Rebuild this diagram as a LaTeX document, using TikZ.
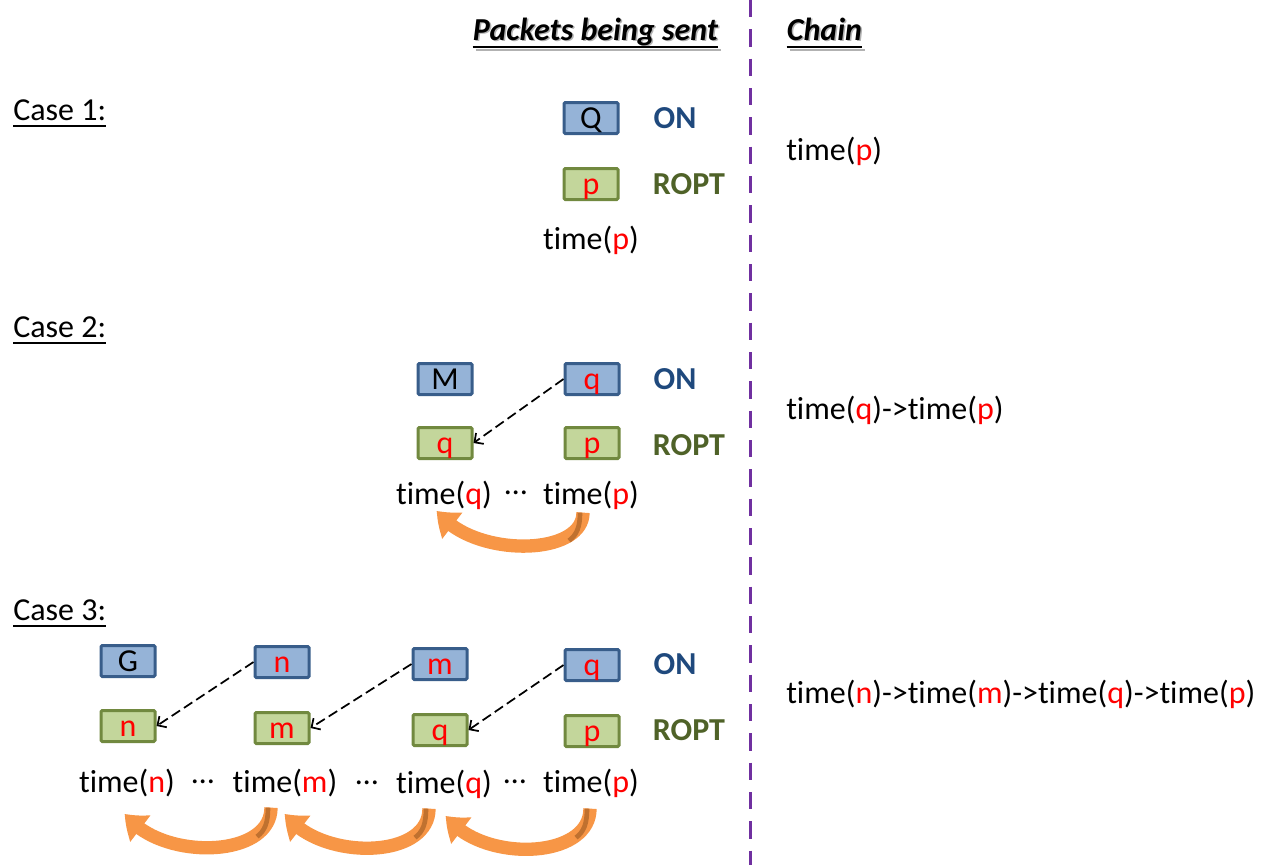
\documentclass[tikz,border=0pt]{standalone}
\usepackage{fontspec}
\setmainfont[Ligatures={NoCommon,NoRare,NoContextual}]{Carlito}
\usetikzlibrary{arrows.meta,bending}
\definecolor{boxblue}{HTML}{95B3D7}
\definecolor{blueedge}{HTML}{385D8A}
\definecolor{boxgreen}{HTML}{C3D69B}
\definecolor{greenedge}{HTML}{71893F}
\definecolor{ontext}{HTML}{1F497D}
\definecolor{ropttext}{HTML}{4F6228}
\definecolor{orng}{HTML}{F79646}
\definecolor{orngdark}{HTML}{C0712F}
\definecolor{purp}{HTML}{7030A0}
\newcommand{\redtx}[1]{\textcolor{red}{#1}}
\newcommand{\mydots}{\raisebox{0.3em}{…}}
\begin{document}
\begin{tikzpicture}[x=0.75pt,y=-0.75pt,
  every node/.style={inner sep=0pt, font=\fontsize{24}{28}\selectfont, text height=15.5pt, text depth=0pt},
  onbox/.style={draw=blueedge, fill=boxblue, line width=2.25pt, minimum width=40.5pt, minimum height=23.25pt, rounded corners=1pt},
  roptbox/.style={draw=greenedge, fill=boxgreen, line width=2.25pt, minimum width=40.5pt, minimum height=23.25pt, rounded corners=1pt},
  onlbl/.style={text=ontext, font=\fontsize{24}{28}\selectfont\bfseries},
  roptlbl/.style={text=ropttext, font=\fontsize{24}{28}\selectfont\bfseries},
  hdr/.style={font=\fontsize{24}{28}\selectfont\bfseries\itshape},
  uline/.style={line width=1.4pt},
  dasharr/.style={line width=1.3pt, dash pattern=on 7.5pt off 3.5pt, -{Straight Barb[length=5pt,width=10pt]}},
  orarrow/.style={draw=orng, line width=10pt, -{Triangle[bend,width=24pt,length=16pt]}},
  ordark/.style={draw=orngdark, line width=3.5pt},
  divider/.style={draw=purp, line width=2.25pt, dash pattern=on 13pt off 9pt}]
\useasboundingbox (0,0) rectangle (1280,865);

% divider
\coordinate (divtop) at (750,0);
\coordinate (divbot) at (750,865);
\draw[divider] (divtop) -- (divbot);

% headers
\node[hdr, text=black!30] (hdr1s) at (597,31.5) {Packets being sent};
\node[hdr] (hdr1) at (595.5,30) {Packets being sent};
\draw[uline, black!30] ([shift={(1.5,7.5)}]hdr1s.south west) -- ([shift={(1.5,7.5)}]hdr1s.south east);
\draw[uline] ([yshift=-4.5pt]hdr1.south west) -- ([yshift=-4.5pt]hdr1.south east);
\node[hdr, text=black!30] (hdr2s) at (826,31.5) {Chain};
\node[hdr] (hdr2) at (824.5,30) {Chain};
\draw[uline, black!30] ([shift={(1.5,7.5)}]hdr2s.south west) -- ([shift={(1.5,7.5)}]hdr2s.south east);
\draw[uline] ([yshift=-4.5pt]hdr2.south west) -- ([yshift=-4.5pt]hdr2.south east);

% case labels
\node[anchor=west] (case1) at (13,110) {Case 1:};
\draw[uline] ([yshift=-4pt]case1.south west) -- ([yshift=-4pt]case1.south east);
\node[anchor=west] (case2) at (13,327) {Case 2:};
\draw[uline] ([yshift=-4pt]case2.south west) -- ([yshift=-4pt]case2.south east);
\node[anchor=west] (case3) at (13,610) {Case 3:};
\draw[uline] ([yshift=-4pt]case3.south west) -- ([yshift=-4pt]case3.south east);

% ---- Case 1
\node[onbox] (b1Q) at (591,118) {Q};
\node[onlbl] (on1) at (675,118) {ON};
\node[roptbox] (g1p) at (591,184) {\redtx{p}};
\node[roptlbl] (ropt1) at (689,184) {ROPT};
\node (t1p) at (591,239) {time(\redtx{p})};
\node[anchor=west] (ch1) at (786,150) {time(\redtx{p})};

% ---- Case 2
\node[onbox] (b2M) at (445,379) {M};
\node[onbox] (b2q) at (592,379) {\redtx{q}};
\node[onlbl] (on2) at (675,379) {ON};
\node[roptbox] (g2q) at (445,443) {\redtx{q}};
\node[roptbox] (g2p) at (592,443) {\redtx{p}};
\node[roptlbl] (ropt2) at (689,445) {ROPT};
\node (t2q) at (444,494) {time(\redtx{q})};
\node (d2) at (516,494) {\mydots};
\node (t2p) at (591,494) {time(\redtx{p})};
\node[anchor=west] (ch2) at (786,409) {time(\redtx{q})->time(\redtx{p})};
\draw[dasharr] (b2q.west) -- (g2q.east);
\draw[orarrow] ([shift={(-8,8)}]t2p.south) .. controls +(0,45) and +(33,47) .. ([shift={(-7,6)}]t2q.south);
\draw[ordark] ([shift={(-11,8)}]t2p.south) .. controls ([shift={(-11,22)}]t2p.south) and ([shift={(-14,30)}]t2p.south) .. ([shift={(-22,36)}]t2p.south);

% ---- Case 3
\node[onbox] (b3G) at (128,661) {G};
\node[onbox] (b3n) at (282,662) {\redtx{n}};
\node[onbox] (b3m) at (440,664) {\redtx{m}};
\node[onbox] (b3q) at (592,665) {\redtx{q}};
\node[onlbl] (on3) at (675,664) {ON};
\node[roptbox] (g3n) at (128,726) {\redtx{n}};
\node[roptbox] (g3m) at (282,728) {\redtx{m}};
\node[roptbox] (g3q) at (440,730) {\redtx{q}};
\node[roptbox] (g3p) at (592,731) {\redtx{p}};
\node[roptlbl] (ropt3) at (689,730) {ROPT};
\node (t3n) at (127,782) {time(\redtx{n})};
\node (d3a) at (203,783) {\mydots};
\node (t3m) at (285,782) {time(\redtx{m})};
\node (d3b) at (367,784) {\mydots};
\node (t3q) at (444,783) {time(\redtx{q})};
\node (d3c) at (515,783) {\mydots};
\node (t3p) at (591,782) {time(\redtx{p})};
\node[anchor=west] (ch3) at (786,693) {time(\redtx{n})->time(\redtx{m})->time(\redtx{q})->time(\redtx{p})};
\draw[dasharr] (b3n.west) -- (g3n.east);
\draw[dasharr] (b3m.west) -- (g3m.east);
\draw[dasharr] (b3q.west) -- (g3q.east);
\draw[orarrow] ([shift={(-14,15)}]t3m.south) .. controls +(0,52) and +(33,47) .. ([shift={(-2,21)}]t3n.south);
\draw[ordark] ([shift={(-17,15)}]t3m.south) .. controls ([shift={(-17,30)}]t3m.south) and ([shift={(-20,38)}]t3m.south) .. ([shift={(-28,44)}]t3m.south);
\draw[orarrow] ([shift={(-15,15)}]t3q.south) .. controls +(0,52) and +(33,47) .. ([shift={(0,21)}]t3m.south);
\draw[ordark] ([shift={(-18,15)}]t3q.south) .. controls ([shift={(-18,30)}]t3q.south) and ([shift={(-21,38)}]t3q.south) .. ([shift={(-29,44)}]t3q.south);
\draw[orarrow] ([shift={(-1,16)}]t3p.south) .. controls +(0,52) and +(33,47) .. ([shift={(2,22)}]t3q.south);
\draw[ordark] ([shift={(-4,16)}]t3p.south) .. controls ([shift={(-4,31)}]t3p.south) and ([shift={(-7,39)}]t3p.south) .. ([shift={(-15,45)}]t3p.south);
\end{tikzpicture}
\end{document}
